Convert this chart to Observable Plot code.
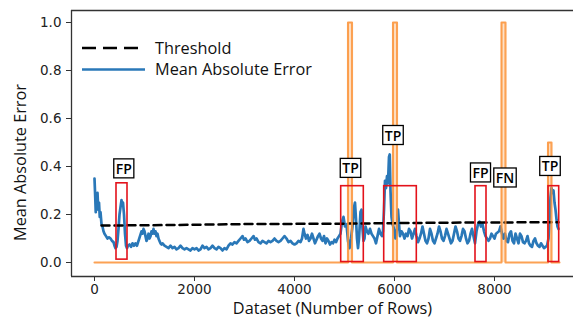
<!DOCTYPE html>
<html>
<head>
<meta charset="utf-8">
<script src="https://cdn.jsdelivr.net/npm/d3@7"></script>
<script src="https://cdn.jsdelivr.net/npm/@observablehq/plot@0.6"></script>
<style>
  html, body { margin: 0; padding: 0; background: #fff; }
  #chart { width: 573px; height: 324px; overflow: hidden; }
</style>
</head>
<body>
<div id="chart"></div>
<script>
// ---- data ----
const maeX = [0,15,25,35,50,60,75,90,105,120,140,160,180,200,230,260,290,320,350,380,400,420,440,460,480,500,520,540,555,570,590,610,630,650,670,700,730,760,790,820,850,880,910,940,960,980,1000,1020,1040,1060,1080,1100,1120,1140,1160,1180,1200,1220,1240,1260,1280,1300,1320,1340,1360,1400,1440,1480,1520,1560,1600,1640,1680,1720,1760,1800,1840,1880,1920,1960,2000,2040,2080,2120,2160,2200,2240,2280,2320,2360,2400,2440,2480,2520,2560,2600,2640,2680,2720,2760,2800,2840,2880,2920,2960,2990,3020,3060,3100,3140,3180,3210,3240,3280,3320,3360,3400,3440,3480,3520,3560,3600,3640,3680,3720,3760,3800,3840,3880,3920,3960,4000,4040,4080,4120,4150,4180,4200,4230,4260,4290,4320,4350,4380,4410,4440,4470,4500,4530,4560,4590,4620,4650,4680,4710,4740,4770,4800,4830,4860,4890,4920,4950,4980,5010,5040,5070,5100,5130,5160,5190,5210,5230,5250,5270,5290,5320,5340,5360,5380,5400,5420,5450,5480,5510,5540,5570,5600,5630,5660,5690,5720,5750,5770,5790,5810,5830,5850,5870,5890,5905,5920,5940,5960,5990,6020,6050,6070,6090,6110,6140,6170,6200,6230,6260,6290,6320,6350,6380,6410,6440,6470,6500,6530,6560,6590,6620,6650,6680,6710,6740,6770,6800,6830,6860,6890,6920,6950,6980,7010,7040,7070,7100,7130,7160,7190,7220,7250,7280,7310,7340,7370,7400,7430,7460,7490,7520,7550,7580,7610,7640,7670,7700,7730,7760,7790,7820,7850,7880,7910,7940,7970,8000,8030,8060,8090,8120,8150,8180,8210,8240,8270,8300,8330,8360,8390,8420,8450,8480,8510,8540,8570,8600,8630,8660,8690,8720,8750,8780,8810,8840,8870,8900,8930,8960,8990,9020,9050,9080,9100,9120,9140,9160,9180,9200,9220,9240,9260,9280];
const maeY = [0.35,0.27,0.21,0.28,0.24,0.29,0.22,0.25,0.19,0.21,0.16,0.15,0.13,0.12,0.11,0.10,0.105,0.10,0.09,0.085,0.07,0.06,0.065,0.09,0.14,0.20,0.23,0.26,0.24,0.25,0.20,0.12,0.07,0.06,0.07,0.075,0.065,0.08,0.07,0.08,0.07,0.09,0.11,0.13,0.12,0.14,0.13,0.11,0.09,0.10,0.12,0.10,0.11,0.13,0.12,0.14,0.12,0.13,0.11,0.12,0.10,0.09,0.08,0.075,0.08,0.07,0.065,0.06,0.07,0.06,0.065,0.055,0.06,0.07,0.06,0.055,0.06,0.055,0.05,0.06,0.055,0.06,0.05,0.055,0.07,0.06,0.065,0.055,0.06,0.07,0.06,0.055,0.065,0.06,0.05,0.06,0.055,0.07,0.08,0.075,0.085,0.08,0.09,0.10,0.11,0.095,0.10,0.085,0.09,0.10,0.11,0.095,0.10,0.085,0.08,0.09,0.085,0.08,0.09,0.085,0.09,0.10,0.09,0.085,0.09,0.10,0.11,0.10,0.085,0.09,0.08,0.075,0.08,0.09,0.085,0.10,0.14,0.12,0.10,0.115,0.09,0.10,0.12,0.10,0.08,0.095,0.11,0.12,0.10,0.09,0.11,0.08,0.10,0.09,0.075,0.085,0.08,0.095,0.085,0.10,0.11,0.12,0.17,0.19,0.15,0.16,0.09,0.06,0.10,0.15,0.23,0.25,0.18,0.10,0.06,0.10,0.21,0.22,0.14,0.09,0.10,0.15,0.13,0.12,0.14,0.12,0.11,0.10,0.08,0.11,0.14,0.12,0.11,0.13,0.22,0.34,0.31,0.36,0.33,0.44,0.45,0.30,0.19,0.16,0.14,0.10,0.14,0.22,0.16,0.11,0.13,0.12,0.10,0.12,0.11,0.14,0.13,0.10,0.12,0.14,0.11,0.085,0.10,0.12,0.15,0.12,0.09,0.08,0.10,0.14,0.12,0.09,0.08,0.10,0.12,0.15,0.13,0.10,0.09,0.11,0.14,0.12,0.10,0.08,0.09,0.12,0.15,0.13,0.10,0.09,0.11,0.14,0.13,0.10,0.08,0.09,0.12,0.14,0.11,0.08,0.13,0.16,0.17,0.15,0.16,0.13,0.11,0.10,0.09,0.10,0.12,0.11,0.10,0.12,0.125,0.13,0.15,0.12,0.10,0.12,0.09,0.085,0.12,0.13,0.09,0.08,0.12,0.10,0.08,0.12,0.11,0.085,0.08,0.09,0.11,0.08,0.07,0.065,0.09,0.10,0.08,0.07,0.065,0.08,0.07,0.06,0.065,0.07,0.10,0.18,0.27,0.31,0.29,0.30,0.25,0.22,0.18,0.15,0.14];

const anomalyX = [0,5070,5070,5150,5150,5970,5970,6050,6050,8140,8140,8220,8220,9070,9070,9140,9140,9300];
const anomalyY = [0,0,1,1,0,0,1,1,0,0,1,1,0,0,0.5,0.5,0,0];

const threshX = [140,1500,3000,5000,7000,9280];
const threshY = [0.154,0.156,0.160,0.162,0.166,0.168];

const boxX1 = [440,4934,5794,7620,9080];
const boxX2 = [660,5386,6446,7840,9294];
const boxY1 = [0.012,0.002,0.002,0.002,0.002];
const boxY2 = [0.330,0.318,0.318,0.318,0.318];

const labelText = ["FP","TP","TP","FP","FN","TP"];
const labelX = [586,5120,5970,7720,8210,9110];
const labelY = [0.388,0.390,0.527,0.371,0.350,0.398];

const xTicks = [0,2000,4000,6000,8000];
const yTicks = [0.0,0.2,0.4,0.6,0.8,1.0];

// ---- tables ----
const mae = maeX.map((x, i) => ({x, y: maeY[i]}));
const anomaly = anomalyX.map((x, i) => ({x, y: anomalyY[i]}));
const thresh = threshX.map((x, i) => ({x, y: threshY[i]}));
const boxes = boxX1.map((x1, i) => ({x1, x2: boxX2[i], y1: boxY1[i], y2: boxY2[i]}));
const labels = labelText.map((t, i) => ({t, x: labelX[i], y: labelY[i]}));

const SANS = "'Open Sans', 'Noto Sans', sans-serif";
const orange = "#fb9236";
const blue = "#2a78b8";

const chart = Plot.plot({
  width: 573,
  height: 324,
  marginLeft: 71,
  marginRight: 0,
  marginTop: 10,
  marginBottom: 48,
  style: {fontFamily: "'DejaVu Sans', sans-serif", fontSize: "13.5px", color: "#222", background: "#fff"},
  x: {domain: [-460, 9580]},
  y: {domain: [-0.0583, 1.05]},
  marks: [
    Plot.areaY(anomaly, {x: "x", y: "y", fill: orange, fillOpacity: 0.28, curve: "linear"}),
    Plot.line(mae, {x: "x", y: "y", stroke: blue, strokeWidth: 2.7}),
    Plot.line(thresh, {x: "x", y: "y", stroke: "#000", strokeWidth: 2.5, strokeDasharray: "8,5"}),
    Plot.line(anomaly, {x: "x", y: "y", stroke: orange, strokeWidth: 2.1, strokeOpacity: 0.85}),
    Plot.rect(boxes, {x1: "x1", x2: "x2", y1: "y1", y2: "y2", stroke: "#e3121b", strokeWidth: 1.6, fill: "none"}),
    Plot.text(labels, {x: "x", y: "y", text: "t", fontSize: 14, fontWeight: 600, fontFamily: SANS, fill: "#000"}),
    Plot.ruleX([-460], {stroke: "#333", strokeWidth: 1.3}),
    Plot.ruleY([1.05], {stroke: "#333", strokeWidth: 1.3}),
    Plot.ruleY([-0.0583], {stroke: "#333", strokeWidth: 1.3}),
    Plot.axisX({ticks: xTicks, tickFormat: d => String(d), tickSize: 5, tickPadding: 3, label: null, stroke: "#333", fill: "#222"}),
    Plot.axisY({ticks: yTicks, tickFormat: d => d.toFixed(1), tickSize: 5, tickPadding: 5, label: null, stroke: "#333", fill: "#222"}),
    Plot.text(["Dataset (Number of Rows)"], {frameAnchor: "bottom", lineAnchor: "middle", textAnchor: "middle", dx: 10, dy: 32, fontSize: 16.3, fontFamily: SANS, fill: "#111"}),
    Plot.text(["Mean Absolute Error"], {frameAnchor: "left", lineAnchor: "middle", textAnchor: "middle", rotate: -90, dx: -51, dy: 19, fontSize: 16.3, fontFamily: SANS, fill: "#111"})
  ]
});

document.getElementById("chart").appendChild(chart);

// boxed annotation labels
const svg = d3.select(chart);
svg.selectAll("text").each(function() {
  const t = this.textContent;
  if (!["TP", "FP", "FN"].includes(t)) return;
  const bb = this.getBBox();
  const r = document.createElementNS("http://www.w3.org/2000/svg", "rect");
  r.setAttribute("x", bb.x - 2);
  r.setAttribute("y", bb.y);
  r.setAttribute("width", bb.width + 4);
  r.setAttribute("height", bb.height);
  r.setAttribute("fill", "#fff");
  r.setAttribute("stroke", "#000");
  r.setAttribute("stroke-width", 1.3);
  const tr = this.getAttribute("transform");
  if (tr) r.setAttribute("transform", tr);
  this.parentNode.insertBefore(r, this);
});

// legend inside the plot area
const leg = svg.append("g").attr("font-family", SANS).attr("font-size", 16.3)
  .attr("fill", "#111").attr("text-anchor", "start");
leg.append("line").attr("x1", 82).attr("x2", 145).attr("y1", 48).attr("y2", 48)
  .attr("stroke", "#000").attr("stroke-width", 2.5).attr("stroke-dasharray", "14,7");
leg.append("text").attr("x", 155).attr("y", 48).attr("dy", "0.35em").text("Threshold");
leg.append("line").attr("x1", 82).attr("x2", 145).attr("y1", 69.5).attr("y2", 69.5)
  .attr("stroke", blue).attr("stroke-width", 2.5);
leg.append("text").attr("x", 155).attr("y", 69.5).attr("dy", "0.35em").text("Mean Absolute Error");
</script>
</body>
</html>
